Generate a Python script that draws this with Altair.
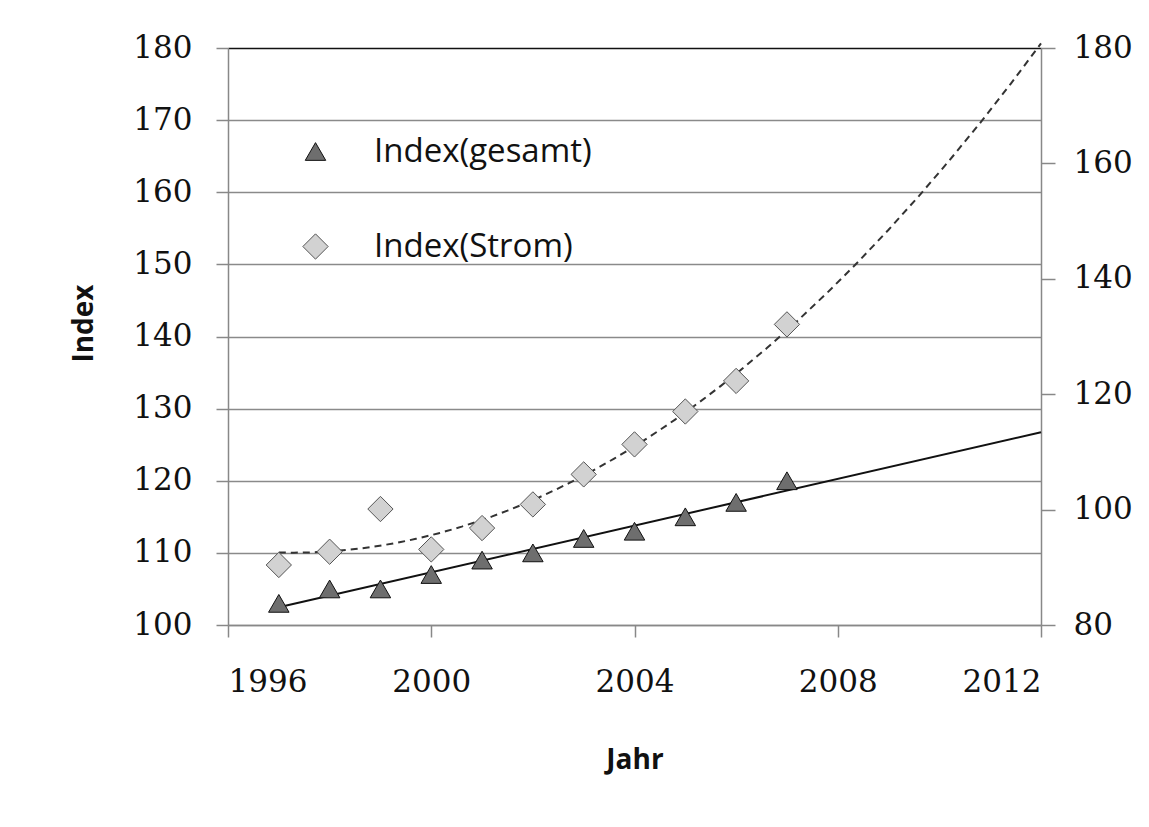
import altair as alt
import pandas as pd

years = [1997, 1998, 1999, 2000, 2001, 2002, 2003, 2004, 2005, 2006, 2007]
gesamt = [103, 105, 105, 107, 109, 110, 112, 113, 115, 117, 120]
strom = [90.4, 92.7, 100.1, 93.1, 96.8, 100.9, 106.1, 111.3, 117.0, 122.3, 132.1]
series_names = ["Index(gesamt)", "Index(Strom)"]
x_ticks = [1996, 2000, 2004, 2008, 2012]
left_ticks = [100, 110, 120, 130, 140, 150, 160, 170, 180]
right_ticks = [80, 100, 120, 140, 160, 180]

df_g = pd.DataFrame({"year": years, "value": gesamt, "series": series_names[0]})
df_s = pd.DataFrame({"year": years, "value": strom, "series": series_names[1]})

LABEL_FONT = "DejaVu Serif"
TEXT_FONT = "Open Sans"

x_enc = alt.X(
    "year:Q",
    scale=alt.Scale(domain=[1996, 2012], nice=False, zero=False),
    axis=alt.Axis(
        values=x_ticks, format="d", grid=False, title="Jahr",
        tickSize=12, tickColor="#888", domainColor="#888", domainWidth=1.5, tickWidth=1.5,
        labelFont=LABEL_FONT, labelFontSize=31, labelColor="#111",
        labelPadding=30,
        titleFont=TEXT_FONT, titleFontSize=28, titleFontWeight="bold", titleColor="#111",
        titleY=135, titleBaseline="middle",
    ),
)

legend = alt.Legend(
    title=None, orient="none", legendX=71, legendY=87, padding=0,
    symbolStrokeWidth=1,
    labelFont=TEXT_FONT, labelFontSize=33, labelColor="#111", labelOffset=42,
    labelLimit=0, rowPadding=61,
)

shape_enc = alt.Shape(
    "series:N",
    scale=alt.Scale(domain=series_names, range=["triangle-up", "diamond"]),
    legend=legend,
)
fill_enc = alt.Fill(
    "series:N",
    scale=alt.Scale(domain=series_names, range=["#6e6e6e", "#d2d2d2"]),
    legend=legend,
)
stroke_enc = alt.Stroke(
    "series:N",
    scale=alt.Scale(domain=series_names, range=["#111111", "#555555"]),
    legend=legend,
)
size_enc = alt.Size(
    "series:N",
    scale=alt.Scale(domain=series_names, range=[420, 640]),
    legend=legend,
)

y_left = alt.Y(
    "value:Q",
    scale=alt.Scale(domain=[100, 180], nice=False, zero=False),
    axis=alt.Axis(
        orient="left", values=left_ticks, title="Index",
        grid=True,
        gridColor=alt.condition("datum.value == 180", alt.value("#111"), alt.value("#8a8a8a")),
        gridWidth=1.5,
        tickSize=12, tickColor="#888", domainColor="#888", domainWidth=1.5, tickWidth=1.5,
        labelFont=LABEL_FONT, labelFontSize=31, labelColor="#111",
        labelPadding=24,
        titleFont=TEXT_FONT, titleFontSize=28, titleFontWeight="bold", titleColor="#111",
        titleX=-144, titleY=275, titleBaseline="middle",
    ),
)
y_right = alt.Y(
    "value:Q",
    scale=alt.Scale(domain=[80, 180], nice=False, zero=False),
    axis=alt.Axis(
        orient="right", values=right_ticks, title=None, grid=False,
        tickSize=14, tickColor="#888", domainColor="#888", domainWidth=1.5, tickWidth=1.5,
        labelFont=LABEL_FONT, labelFontSize=31, labelColor="#111",
        labelPadding=18,
    ),
)

line_g = alt.Chart(df_g).transform_regression(
    "year", "value", extent=[1997, 2012]
).mark_line(color="#111", strokeWidth=2).encode(x=x_enc, y=y_left)

pts_g = alt.Chart(df_g).mark_point(
    filled=True, strokeWidth=1, opacity=1
).encode(x=x_enc, y=y_left, shape=shape_enc, fill=fill_enc, stroke=stroke_enc, size=size_enc)

line_s = alt.Chart(df_s).transform_regression(
    "year", "value", method="poly", order=2, extent=[1997, 2012]
).mark_line(color="#333", strokeWidth=2, strokeDash=[7, 5]).encode(x=x_enc, y=y_right)

pts_s = alt.Chart(df_s).mark_point(
    filled=True, strokeWidth=1, opacity=1
).encode(x=x_enc, y=y_right, shape=shape_enc, fill=fill_enc, stroke=stroke_enc, size=size_enc)

left = alt.layer(line_g, pts_g)
right = alt.layer(line_s, pts_s)

chart = alt.layer(left, right).resolve_scale(y="independent").properties(
    width=813, height=577,
    autosize=alt.AutoSizeParams(type="none"),
    padding={"left": 220, "top": 40, "right": 96, "bottom": 190},
    background="white",
).configure_view(stroke=None)

chart.save("out.html", embed_options={"renderer": "svg", "actions": False})
